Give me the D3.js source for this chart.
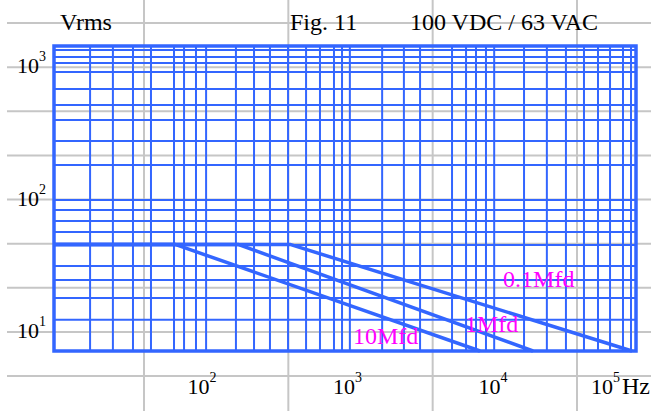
<!DOCTYPE html>
<html><head><meta charset="utf-8">
<script src="https://cdn.jsdelivr.net/npm/d3@7"></script>
<style>html,body{margin:0;padding:0;background:#fff;} svg{display:block;}</style>
</head><body><svg id="c" width="651" height="411"></svg>
<script>
// ---- data ----
const titleTexts = ["Vrms", "Fig. 11", "100 VDC / 63 VAC"];
const xDomain = [10, 100000];          // Hz
const yDomain = [10, 1000];            // Vrms
// irregular grid of the chart
const xGridValues = [17.7, 25.4, 34.9, 46.4, 66.8, 78.3, 94.6, 111, 178, 237, 305, 406, 540, 673, 840, 954,
  1080, 1800, 2540, 3280, 5440, 6790, 7950, 9310, 10600, 17000, 24400, 33000, 43900, 54800, 66300, 81400, 92400];
const yGridValues = [16, 22.3, 29.2, 36.1, 49.6, 60.3, 71.2, 84.1, 97.8, 166, 238, 327, 410, 522, 675, 774, 847, 942];
const xTickValues = [100, 1000, 10000, 100000];
const xTickExponents = ["2", "3", "4", "5"];
const xUnit = "Hz";
const yTickExponents = ["3", "2", "1"];
const yTickRows = [1, 4, 7];            // rows of the background table
const seriesNames = ["10Mfd", "1Mfd", "0.1Mfd"];
const series10Mfd = [[10, 50], [68, 50], [8470, 10]];
const series1Mfd = [[10, 50], [184, 50], [19600, 10]];
const series01Mfd = [[10, 50], [419, 50], [93900, 10]];
const labelAnchors = [[1135, 11.1], [6680, 13.3], [12200, 26.3]];
// background table lines
const bgRows = [0, 1, 2, 3, 4, 5, 6, 7, 8];
const bgCols = [1, 2, 3, 4];

// ---- drawing ----
const W = 651, H = 411;
const svg = d3.select("#c");
const blue = "#3366ff", gray = "#c6c6c6", mag = "#ff00ff";
const font = "'Liberation Serif','Times New Roman',serif";

const x = d3.scaleLog().domain(xDomain).range([54, 636]);
const y = d3.scaleLog().domain(yDomain).range([351, 46]);
const rowY = d3.scaleLinear().domain([0, 8]).range([23, 376]);
const colX = d3.scaleLinear().domain([1, 4]).range([144, 577]);

// background table
svg.append("g").selectAll("line").data(bgRows).join("line")
  .attr("x1", 7).attr("x2", W).attr("y1", d => rowY(d)).attr("y2", d => rowY(d))
  .attr("stroke", gray).attr("stroke-width", 2);
svg.append("g").selectAll("line").data(bgCols).join("line")
  .attr("x1", d => colX(d)).attr("x2", d => colX(d)).attr("y1", 0).attr("y2", H)
  .attr("stroke", gray).attr("stroke-width", 2);

// grid
const g = svg.append("g");
g.selectAll("line.gx").data(xGridValues).join("line").attr("class", "gx")
  .attr("x1", d => x(d)).attr("x2", d => x(d)).attr("y1", y(yDomain[1])).attr("y2", y(yDomain[0]))
  .attr("stroke", blue).attr("stroke-width", 2);
g.selectAll("line.gy").data(yGridValues).join("line").attr("class", "gy")
  .attr("x1", x(xDomain[0])).attr("x2", x(xDomain[1])).attr("y1", d => y(d)).attr("y2", d => y(d))
  .attr("stroke", blue).attr("stroke-width", 2);
g.append("rect").attr("x", x(xDomain[0])).attr("y", y(yDomain[1]))
  .attr("width", x(xDomain[1]) - x(xDomain[0])).attr("height", y(yDomain[0]) - y(yDomain[1]))
  .attr("fill", "none").attr("stroke", blue).attr("stroke-width", 3.5);

// curves
const line = d3.line().x(d => x(d[0])).y(d => y(d[1]));
[series10Mfd, series1Mfd, series01Mfd].forEach(s => {
  svg.append("path").attr("d", line(s)).attr("fill", "none").attr("stroke", blue)
    .attr("stroke-width", 3.5).attr("stroke-linejoin", "round");
});

// curve labels
svg.append("g").selectAll("text").data(seriesNames).join("text")
  .attr("x", (d, i) => x(labelAnchors[i][0])).attr("y", (d, i) => y(labelAnchors[i][1]))
  .attr("fill", mag).attr("font-family", font).attr("font-size", 24).text(d => d);

// titles
const titleX = [60, 290, 410];
svg.append("g").selectAll("text").data(titleTexts).join("text")
  .attr("x", (d, i) => titleX[i]).attr("y", 30)
  .attr("font-family", font).attr("font-size", 24).attr("fill", "#000").text(d => d);

// y tick labels
yTickExponents.forEach((e, i) => {
  const t = svg.append("text").attr("x", 17).attr("y", rowY(yTickRows[i]) + 6)
    .attr("font-family", font).attr("font-size", 22).attr("fill", "#000");
  t.append("tspan").text("10");
  t.append("tspan").attr("dy", -12).attr("font-size", 14).text(e);
});

// x tick labels
xTickValues.forEach((v, i) => {
  const last = i === xTickValues.length - 1;
  const t = svg.append("text").attr("y", 394)
    .attr("font-family", font).attr("font-size", 22).attr("fill", "#000");
  if (last) { t.attr("x", W - 1).attr("text-anchor", "end"); }
  else { t.attr("x", x(v) - 12); }
  t.append("tspan").text("10");
  t.append("tspan").attr("dy", -12).attr("font-size", 14).text(xTickExponents[i]);
  if (last) t.append("tspan").attr("dy", 12).attr("dx", 2).attr("font-size", 24).text(xUnit);
});
</script></body></html>
